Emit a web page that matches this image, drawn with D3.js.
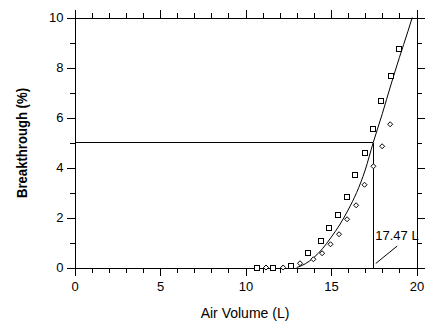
<!DOCTYPE html>
<html>
<head>
<meta charset="utf-8">
<script src="https://cdn.jsdelivr.net/npm/d3@7"></script>
<style>
  html, body { margin: 0; padding: 0; background: #fff; }
  svg { display: block; }
  text { font-family: Arial, "Liberation Sans", sans-serif; fill: #000; }
</style>
</head>
<body>
<script>
// Data
const squareX = [10.67, 11.61, 12.68, 13.68, 14.42, 14.91, 15.43, 15.96, 16.43, 16.96, 17.48, 17.95, 18.48, 19.0];
const squareY = [0, 0, 0.08, 0.6, 1.08, 1.56, 2.12, 2.84, 3.72, 4.6, 5.56, 6.68, 7.68, 8.76];
const diamondX = [11.2, 12.2, 13.19, 13.97, 14.48, 14.97, 15.47, 15.94, 16.47, 16.96, 17.48, 17.99, 18.46];
const diamondY = [0, 0, 0.17, 0.33, 0.57, 0.93, 1.33, 1.93, 2.49, 3.31, 4.05, 4.85, 5.73];
const fitX = [13.0, 13.5, 14.0, 14.5, 15.0, 15.5, 16.0, 16.5, 17.0, 17.47, 18.0, 18.5, 19.0, 19.5, 19.75];
const fitY = [0, 0.15, 0.4, 0.75, 1.2, 1.7, 2.3, 3.0, 3.9, 5.0, 6.15, 7.3, 8.4, 9.45, 10];
const cutX = 17.47;
const cutY = 5;
const xMajor = [0, 5, 10, 15, 20];
const yMajor = [0, 2, 4, 6, 8, 10];

const width = 437, height = 328;
const svg = d3.select("body").append("svg")
    .attr("width", width)
    .attr("height", height);

const x = d3.scaleLinear().domain([0, 20]).range([74.5, 416.5]);
const y = d3.scaleLinear().domain([0, 10]).range([267.5, 17.5]);

const tickFont = g => g.selectAll("text")
    .style("font-size", "13px")
    .style("font-family", "Arial, 'Liberation Sans', sans-serif");
const plain = g => g.selectAll("path, line").attr("stroke", "#000").attr("shape-rendering", "crispEdges");

// Minor ticks
svg.append("g").attr("transform", `translate(0,${y(0)})`)
    .call(d3.axisBottom(x).tickValues(d3.range(0, 21)).tickSize(5).tickSizeOuter(0).tickFormat(""))
    .call(plain);
svg.append("g").attr("transform", `translate(0,${y(10)})`)
    .call(d3.axisTop(x).tickValues(d3.range(0, 21)).tickSize(5).tickSizeOuter(0).tickFormat(""))
    .call(plain);
svg.append("g").attr("transform", `translate(${x(0)},0)`)
    .call(d3.axisLeft(y).tickValues(d3.range(0, 11)).tickSize(5).tickSizeOuter(0).tickFormat(""))
    .call(plain);
svg.append("g").attr("transform", `translate(${x(20)},0)`)
    .call(d3.axisRight(y).tickValues(d3.range(0, 11)).tickSize(5).tickSizeOuter(0).tickFormat(""))
    .call(plain);

// Major ticks
svg.append("g").attr("transform", `translate(0,${y(0)})`)
    .call(d3.axisBottom(x).tickValues(xMajor).tickSize(8).tickSizeOuter(0).tickPadding(6))
    .call(plain).call(tickFont);
svg.append("g").attr("transform", `translate(0,${y(10)})`)
    .call(d3.axisTop(x).tickValues(xMajor).tickSize(8).tickSizeOuter(0).tickFormat(""))
    .call(plain);
svg.append("g").attr("transform", `translate(${x(0)},0)`)
    .call(d3.axisLeft(y).tickValues(yMajor).tickSize(8).tickSizeOuter(0).tickPadding(3))
    .call(plain).call(tickFont);
svg.append("g").attr("transform", `translate(${x(20)},0)`)
    .call(d3.axisRight(y).tickValues(yMajor).tickSize(8).tickSizeOuter(0).tickFormat(""))
    .call(plain);

// 5% breakthrough guide lines
svg.append("line")
    .attr("x1", x(0)).attr("x2", x(cutX))
    .attr("y1", y(cutY)).attr("y2", y(cutY))
    .attr("stroke", "#000").attr("shape-rendering", "crispEdges");
svg.append("line")
    .attr("x1", x(cutX)).attr("x2", x(cutX))
    .attr("y1", y(cutY)).attr("y2", y(0))
    .attr("stroke", "#000").attr("shape-rendering", "crispEdges");

// Fitted curve
const fit = fitX.map((d, i) => [d, fitY[i]]);
svg.append("path")
    .datum(fit)
    .attr("fill", "none")
    .attr("stroke", "#000")
    .attr("stroke-width", 1)
    .attr("d", d3.line().x(d => x(d[0])).y(d => y(d[1])).curve(d3.curveMonotoneX));

// Squares
const sq = squareX.map((d, i) => [d, squareY[i]]);
svg.append("g").selectAll("rect")
    .data(sq)
  .enter().append("rect")
    .attr("x", d => Math.round(x(d[0])) - 2.5)
    .attr("y", d => Math.round(y(d[1])) - 2.5)
    .attr("width", 5)
    .attr("height", 5)
    .attr("fill", "#fff")
    .attr("stroke", "#000")
    .attr("shape-rendering", "crispEdges");

// Diamonds
const dm = diamondX.map((d, i) => [d, diamondY[i]]);
svg.append("g").selectAll("path")
    .data(dm)
  .enter().append("path")
    .attr("d", d => {
      const cx = x(d[0]), cy = y(d[1]), r = 2.5;
      return `M${cx},${cy - r}L${cx + r},${cy}L${cx},${cy + r}L${cx - r},${cy}Z`;
    })
    .attr("fill", "#fff")
    .attr("stroke", "#000")
    .attr("stroke-width", 1);

// Annotation
svg.append("line")
    .attr("x1", x(cutX) + 2.5).attr("y1", y(0) - 4)
    .attr("x2", x(cutX) + 24).attr("y2", y(0) - 21.5)
    .attr("stroke", "#000");
svg.append("text")
    .attr("x", x(cutX) + 2)
    .attr("y", 240)
    .style("font-size", "13px")
    .text("17.47 L");

// Axis titles
svg.append("text")
    .attr("x", 245)
    .attr("y", 318)
    .attr("text-anchor", "middle")
    .style("font-size", "14px")
    .text("Air Volume (L)");

svg.append("text")
    .attr("transform", "translate(26.5,143) rotate(-90)")
    .attr("text-anchor", "middle")
    .attr("textLength", 110)
    .attr("lengthAdjust", "spacingAndGlyphs")
    .style("font-size", "15px")
    .style("font-weight", "bold")
    .text("Breakthrough (%)");
</script>
</body>
</html>
